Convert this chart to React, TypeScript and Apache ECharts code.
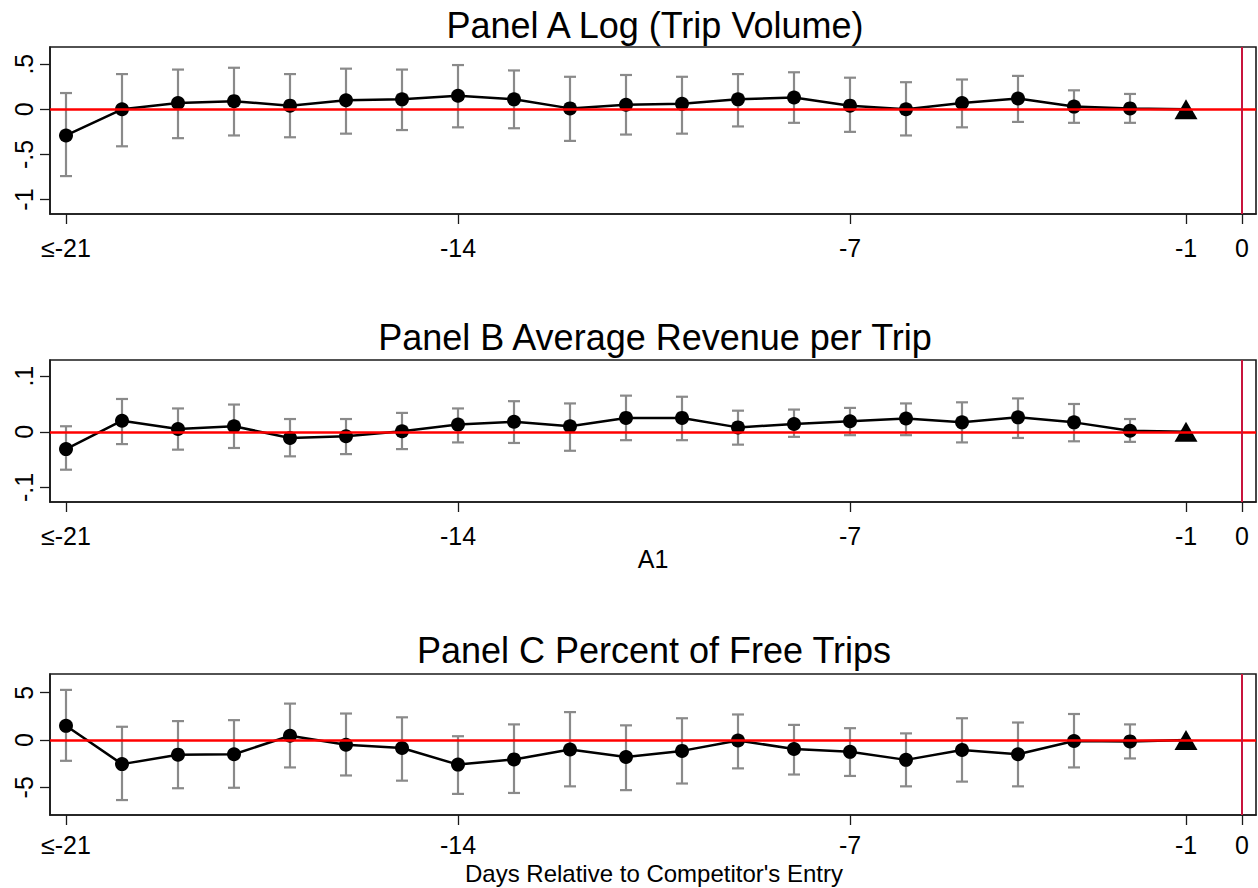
import React, { useEffect, useRef } from "react";
import * as echarts from "echarts";

const days = [-21, -20, -19, -18, -17, -16, -15, -14, -13, -12, -11, -10, -9, -8, -7, -6, -5, -4, -3, -2, -1];

const aEst = [-0.29, 0.0, 0.07, 0.09, 0.04, 0.1, 0.11, 0.15, 0.11, 0.01, 0.05, 0.06, 0.11, 0.13, 0.04, 0.0, 0.07, 0.12, 0.03, 0.01, 0];
const aHi = [0.18, 0.39, 0.44, 0.46, 0.39, 0.45, 0.44, 0.49, 0.43, 0.36, 0.38, 0.36, 0.39, 0.41, 0.35, 0.3, 0.33, 0.37, 0.21, 0.17, null];
const aLo = [-0.74, -0.41, -0.32, -0.29, -0.31, -0.27, -0.23, -0.2, -0.21, -0.35, -0.28, -0.27, -0.19, -0.15, -0.25, -0.29, -0.2, -0.14, -0.15, -0.15, null];

const bEst = [-0.031, 0.02, 0.005, 0.01, -0.011, -0.008, 0.001, 0.013, 0.018, 0.01, 0.025, 0.025, 0.008, 0.014, 0.019, 0.024, 0.017, 0.026, 0.017, 0.002, 0];
const bHi = [0.01, 0.059, 0.042, 0.049, 0.023, 0.023, 0.034, 0.042, 0.055, 0.051, 0.065, 0.063, 0.038, 0.04, 0.043, 0.051, 0.053, 0.06, 0.05, 0.023, null];
const bLo = [-0.068, -0.022, -0.032, -0.029, -0.044, -0.04, -0.031, -0.019, -0.02, -0.034, -0.015, -0.015, -0.023, -0.009, -0.006, -0.006, -0.019, -0.011, -0.017, -0.018, null];

const cEst = [1.5, -2.55, -1.55, -1.5, 0.45, -0.5, -0.85, -2.6, -2.05, -1.0, -1.8, -1.15, -0.05, -0.95, -1.25, -2.1, -1.05, -1.5, -0.1, -0.15, 0];
const cHi = [5.3, 1.4, 2.0, 2.1, 3.85, 2.8, 2.4, 0.4, 1.65, 2.95, 1.55, 2.3, 2.7, 1.6, 1.25, 0.7, 2.3, 1.85, 2.75, 1.65, null];
const cLo = [-2.2, -6.35, -5.1, -5.05, -2.9, -3.75, -4.3, -5.7, -5.6, -4.9, -5.3, -4.6, -3.0, -3.65, -3.8, -4.9, -4.4, -4.9, -2.9, -1.95, null];

const xTicks = [-21, -14, -7, -1, 0];
const titles = ["Panel A Log (Trip Volume)", "Panel B Average Revenue per Trip", "Panel C Percent of Free Trips"];
const yTicksA = [-1, -0.5, 0, 0.5];
const yTicksB = [-0.1, 0, 0.1];
const yTicksC = [-5, 0, 5];
const xTitleB = "A1";
const xTitleC = "Days Relative to Competitor's Entry";

const FONT = "'Liberation Sans', Arial, sans-serif";

export default function App() {
  const ref = useRef<HTMLDivElement>(null);
  useEffect(() => {
    if (!ref.current) return;
    const chart = echarts.init(ref.current, undefined, { renderer: "svg" });

    const panels = [
      { est: aEst, hi: aHi, lo: aLo, yt: yTicksA, min: -1.16, max: 0.69, top: 47, height: 167, lm: 21 },
      { est: bEst, hi: bHi, lo: bLo, yt: yTicksB, min: -0.126, max: 0.129, top: 360, height: 142, lm: 21 },
      { est: cEst, hi: cHi, lo: cLo, yt: yTicksC, min: -7.93, max: 6.98, top: 674, height: 141, lm: 17 },
    ];

    const fmt = (v: number) => String(v).replace("0.", ".");

    const grid = panels.map((p) => ({
      left: 50,
      right: 2,
      top: p.top,
      height: p.height,
      show: true,
      borderColor: "#1a1a1a",
      borderWidth: 1.6,
      backgroundColor: "#fff",
      containLabel: false,
      outerBoundsMode: "none",
    }));

    const xAxis = panels.map((p, i) => ({
      type: "value",
      gridIndex: i,
      min: -21 - 16 / 56,
      max: 0.25,
      splitLine: { show: false },
      axisLine: { show: true, onZero: false, lineStyle: { color: "#1a1a1a", width: 1.6 } },
      axisTick: { show: true, length: 10, customValues: xTicks, lineStyle: { color: "#1a1a1a", width: 1.3 } },
      axisLabel: {
        customValues: xTicks,
        margin: p.lm,
        fontSize: 25,
        lineHeight: 25,
        fontFamily: FONT,
        color: "#000",
        formatter: (v: number) => (v === -21 ? "≤-21" : String(v)),
      },
    }));

    const yAxis = panels.map((p, i) => ({
      type: "value",
      gridIndex: i,
      min: p.min,
      max: p.max,
      splitLine: { show: false },
      axisLine: { show: true, onZero: false, lineStyle: { color: "#1a1a1a", width: 1.6 } },
      axisTick: { show: true, length: 10, customValues: p.yt, lineStyle: { color: "#1a1a1a", width: 1.3 } },
      axisLabel: {
        customValues: p.yt,
        rotate: 90,
        margin: 14,
        fontSize: 25,
        fontFamily: FONT,
        color: "#000",
        formatter: fmt,
      },
    }));

    const series: any[] = [];
    panels.forEach((p, i) => {
      const errData = days
        .map((d, k) => (p.hi[k] === null ? null : [d, p.lo[k] as number, p.hi[k] as number]))
        .filter((x) => x !== null);
      series.push({
        type: "custom",
        xAxisIndex: i,
        yAxisIndex: i,
        z: 1,
        silent: true,
        data: errData,
        renderItem: (params: any, api: any) => {
          const x = api.value(0);
          const lo = api.value(1);
          const hi = api.value(2);
          const t = api.coord([x, hi]);
          const b = api.coord([x, lo]);
          const w = 6;
          const style = { stroke: "#8a8a8a", lineWidth: 2.2 };
          return {
            type: "group",
            children: [
              { type: "line", shape: { x1: t[0], y1: t[1], x2: b[0], y2: b[1] }, style },
              { type: "line", shape: { x1: t[0] - w, y1: t[1], x2: t[0] + w, y2: t[1] }, style },
              { type: "line", shape: { x1: b[0] - w, y1: b[1], x2: b[0] + w, y2: b[1] }, style },
            ],
          };
        },
      });
      series.push({
        type: "line",
        xAxisIndex: i,
        yAxisIndex: i,
        z: 2,
        silent: true,
        showSymbol: false,
        symbol: "none",
        lineStyle: { opacity: 0, width: 0 },
        data: days.map((d, k) => [d, p.est[k]]),
        markLine: {
          silent: true,
          symbol: ["none", "none"],
          label: { show: false },
          data: [
            { yAxis: 0, lineStyle: { color: "#ff0000", width: 2.5, type: "solid" } },
            { xAxis: 0, lineStyle: { color: "#c8143c", width: 2, type: "solid" } },
          ],
        },
      });
      series.push({
        type: "line",
        xAxisIndex: i,
        yAxisIndex: i,
        z: 3,
        silent: true,
        symbol: "circle",
        symbolSize: 14,
        itemStyle: { color: "#000" },
        lineStyle: { color: "#000", width: 2.5 },
        data: days.map((d, k) =>
          k === days.length - 1
            ? { value: [d, p.est[k]], symbol: "triangle", symbolSize: [23, 20] }
            : [d, p.est[k]]
        ),
      });
    });

    const textStyle = (size: number) => ({ fontSize: size, lineHeight: size, fontFamily: FONT, fill: "#000", align: "center", verticalAlign: "middle" });

    chart.setOption({
      animation: false,
      backgroundColor: "#fff",
      grid,
      xAxis,
      yAxis,
      series,
      graphic: [
        { type: "text", x: 655, y: 25, style: { text: titles[0], ...textStyle(36) } },
        { type: "text", x: 655, y: 337, style: { text: titles[1], ...textStyle(36) } },
        { type: "text", x: 654, y: 650, style: { text: titles[2], ...textStyle(36) } },
        { type: "text", x: 653, y: 559, style: { text: xTitleB, ...textStyle(25) } },
        { type: "text", x: 654, y: 873, style: { text: xTitleC, ...textStyle(24) } },
      ],
    });

    return () => chart.dispose();
  }, []);

  return <div ref={ref} style={{ position: "fixed", left: 0, top: 0, width: 1258, height: 888, background: "#fff" }} />;
}
